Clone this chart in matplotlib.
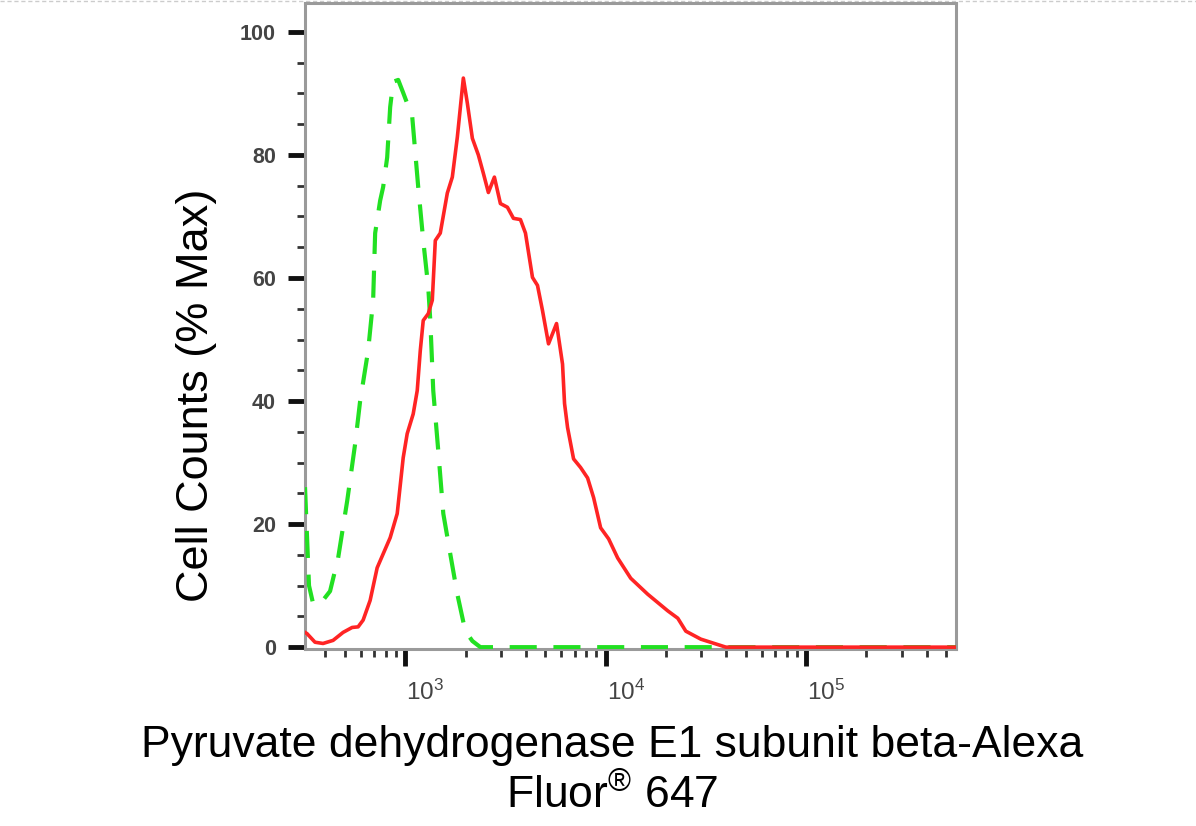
import matplotlib
matplotlib.use("Agg")
import matplotlib.pyplot as plt
from matplotlib.ticker import LogLocator, NullFormatter, MultipleLocator, FixedLocator
from matplotlib.lines import Line2D
from matplotlib.transforms import ScaledTranslation

plt.rcParams['font.family'] = ['Liberation Sans', 'DejaVu Sans']
plt.rcParams['mathtext.fontset'] = 'custom'
plt.rcParams['mathtext.rm'] = 'Liberation Sans'
plt.rcParams['mathtext.it'] = 'Liberation Sans:italic'
plt.rcParams['mathtext.bf'] = 'Liberation Sans:bold'
plt.rcParams['mathtext.default'] = 'regular'

# ---- data (fluorescence intensity, % of max cell count) ----
sample_x = [316.2, 323.6, 354.8, 389.0, 436.5, 489.8, 543.3, 582.1, 616.6, 668.3,
            724.4, 841.4, 912.0, 977.2, 1023, 1096, 1148, 1189, 1230, 1303,
            1365, 1413, 1496, 1622, 1718, 1820, 1950, 2042, 2163, 2317,
            2455, 2600, 2786, 2985, 3236, 3467, 3758, 3981, 4315, 4571,
            4842, 5188, 5689, 6095, 6237, 6457, 6918, 7499, 8128, 8710,
            9441, 10350, 11480, 13340, 16220, 20420, 22910, 25120, 29850, 39810,
            560000]
sample_y = [2.4, 2.2, 0.8, 0.6, 1.1, 2.4, 3.2, 3.3, 4.4, 7.6,
            12.9, 17.8, 21.7, 30.8, 34.7, 37.9, 41.7, 48.2, 53.1, 54.2,
            56.4, 66.1, 67.3, 73.8, 76.4, 82.9, 92.5, 88.4, 82.7, 80.0,
            77.0, 73.9, 76.4, 72.1, 71.5, 69.7, 69.5, 67.3, 60.1, 58.8,
            54.7, 49.3, 52.6, 46.0, 39.6, 35.7, 30.6, 29.2, 27.5, 24.3,
            19.4, 17.6, 14.5, 11.2, 8.6, 5.9, 4.7, 2.6, 1.3, 0.0,
            0.0]

control_x = [316.2, 323.6, 331.1, 347.5, 375.8, 421.7, 462.7, 513.6, 562.3, 595.7,
             653.1, 691.8, 707.9, 749.9, 776.2, 812.8, 841.4, 870.9, 922.6, 977.2,
             1084, 1161, 1230, 1303, 1334, 1380, 1462, 1549, 1679, 1820,
             1995, 2163, 2371, 560000]
control_y = [26.0, 18.0, 10.0, 7.0, 7.0, 9.1, 14.5, 23.8, 33.0, 40.0,
             48.2, 56.4, 67.3, 72.6, 74.8, 79.6, 87.8, 91.9, 92.2, 90.1,
             86.2, 74.8, 66.1, 58.5, 53.1, 41.7, 31.9, 21.7, 15.1, 8.6,
             2.6, 1.0, 0.0, 0.0]

x_major = [1e3, 1e4, 1e5]
y_major = [0, 20, 40, 60, 80, 100]
x_label = 'Pyruvate dehydrogenase E1 subunit beta-Alexa\nFluor$^{\\mathregular{®}}$ 647'
y_label = 'Cell Counts (% Max)'

fig = plt.figure(figsize=(11.96, 8.26), dpi=100)
ax = fig.add_axes([305/1196, 1 - 649/826, 651/1196, 646/826])

ax.plot(control_x, control_y, color='#22e022', lw=3.0, linestyle=(0, (6.5, 4)),
        solid_capstyle='butt', dash_capstyle='butt', zorder=3)
ax.plot(sample_x, sample_y, color='#ff2424', lw=2.6, zorder=4,
        solid_joinstyle='round')

ax.set_xscale('log')
ax.set_xlim(316.2, 5.6e5)
ax.set_ylim(-0.3, 104.7)

ax.xaxis.set_major_locator(FixedLocator(x_major))
ax.xaxis.set_minor_locator(LogLocator(base=10, subs=[2, 3, 4, 5, 6, 7, 8, 9]))
ax.xaxis.set_minor_formatter(NullFormatter())
ax.yaxis.set_major_locator(FixedLocator(y_major))
ax.yaxis.set_minor_locator(MultipleLocator(5))

for s in ax.spines.values():
    s.set_color('#9a9a9a')
    s.set_linewidth(2.2)

ax.tick_params(axis='both', which='major', length=12, width=3.5, color='#111111',
               labelcolor='#444444')
ax.tick_params(axis='both', which='minor', length=5.5, width=2, color='#333333')
ax.tick_params(axis='x', which='major', pad=10, labelsize=17.5)
ax.tick_params(axis='y', which='major', pad=9, labelsize=15.5)
for lab in ax.get_yticklabels():
    lab.set_fontweight('bold')

# x tick labels sit a little to the right of their ticks in the original
fig.canvas.draw()
shift = ScaledTranslation(0.2, 0, fig.dpi_scale_trans)
for lab in ax.xaxis.get_majorticklabels():
    lab.set_transform(lab.get_transform() + shift)

ax.set_xlabel(x_label, fontsize=32, color='black', va='center', linespacing=1.2)
ax.xaxis.set_label_coords(0.4716, -0.189)
ax.set_ylabel(y_label, fontsize=32.5, color='black', va='center')
ax.yaxis.set_label_coords(-0.167, 0.392)

# light dashed border line at the very top of the image
fig.add_artist(Line2D([0, 1], [0.9992, 0.9992], transform=fig.transFigure,
                      color='#cccccc', lw=1, linestyle=(0, (3, 2)), zorder=0))

fig.savefig('out.png', dpi=100)
